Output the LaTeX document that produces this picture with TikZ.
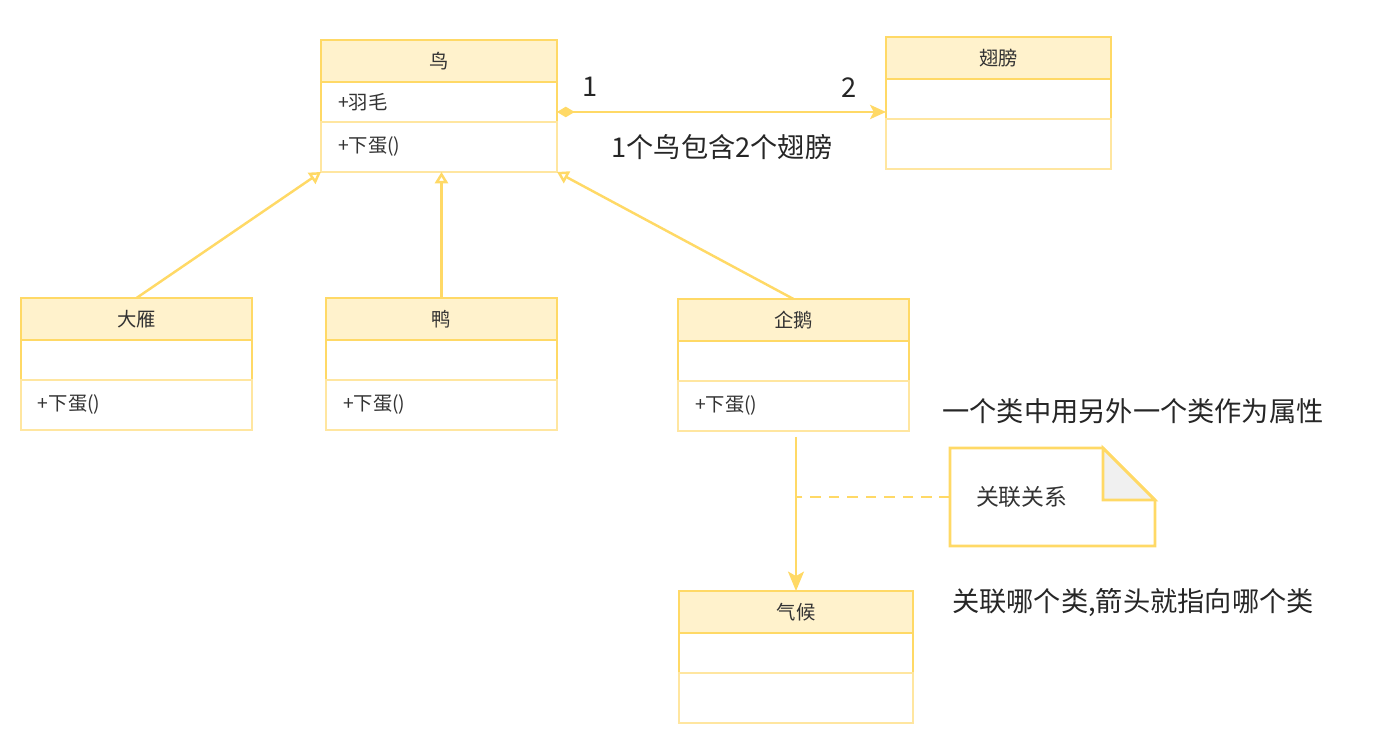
\documentclass[tikz,border=0pt]{standalone}
\usepackage{fontspec}
\setmainfont{Noto Sans CJK SC}
\usepackage{xcolor}
\usepackage{tikz}
\usetikzlibrary{arrows.meta,calc,positioning}
\definecolor{umlline}{RGB}{255,217,102}
\definecolor{umlfill}{RGB}{255,242,204}
\definecolor{umlpale}{RGB}{255,230,160}
\definecolor{txt}{RGB}{51,51,51}
\newcommand{\umlclass}[7]{%
  \pgfmathsetlengthmacro\clsw{#4*0.02cm}\pgfmathsetlengthmacro\clstw{#4*0.02cm-0.68cm}%
  \node[clshead,minimum width=\clsw,anchor=north west] (#1) at (#2,#3) {#5};
  \node[clsrow,minimum width=\clsw,text width=\clstw,anchor=north] (#1-a) at (#1.south) {#6};
  \node[clsrow,clslast,minimum width=\clsw,text width=\clstw,anchor=north] (#1-m) at (#1-a.south) {#7};}

\begin{document}
\begin{tikzpicture}[x=0.02cm,y=-0.02cm,
  clshead/.style={draw=umlline,fill=umlfill,line width=1.5pt,inner sep=0pt,outer sep=0pt,minimum height=0.84cm,font=\fontsize{11}{13}\selectfont,text=txt},
  clsrow/.style={draw=umlline,fill=white,line width=1.5pt,inner ysep=0pt,inner xsep=0.34cm,outer sep=0pt,minimum height=0.8cm,align=left,font=\fontsize{11}{13}\selectfont,text=txt},
  clslast/.style={draw=umlpale,minimum height=1cm},
  gen/.style={draw=umlline,line width=1.4pt,-{Triangle[open,fill=white,length=6.5pt,width=7.5pt]}},
  comp/.style={draw=umlline,line width=1.6pt,{Diamond[length=10pt,width=6pt]}-{Stealth[length=9pt,width=8pt,inset=2pt]}},
  assoc/.style={draw=umlline,line width=1.6pt,-{Stealth[length=11pt,width=9pt,inset=2.5pt]}},
  notelink/.style={draw=umlline,line width=1.4pt,dash pattern=on 6pt off 4.5pt},
  notebox/.style={minimum width=4.1cm,minimum height=1.96cm,text width=3.06cm,inner xsep=0.52cm,inner ysep=0pt,outer sep=0pt,align=left,font=\fontsize{13}{15}\selectfont,text=txt},
  noteline/.style={draw=umlline,line width=1.6pt,line join=miter},
  anno/.style={font=\fontsize{15.5}{18}\selectfont,text=black!85,inner sep=0pt}]
  \useasboundingbox (0,0) rectangle (1386,741);
  \umlclass{niao}{321}{40}{236}{鸟}{+羽毛}{+下蛋()}
  \umlclass{chibang}{886}{37}{225}{翅膀}{}{}
  \umlclass{dayan}{21}{298}{231}{大雁}{}{+下蛋()}
  \umlclass{ya}{326}{298}{231}{鸭}{}{+下蛋()}
  \umlclass{qie}{678}{299}{231}{企鹅}{}{+下蛋()}
  \umlclass{qihou}{679}{591}{234}{气候}{}{}
  % inheritance
  \draw[gen] (dayan.north) -- (niao-m.south west);
  \draw[gen] (ya.north) -- (ya.north |- niao-m.south);
  \draw[gen] (qie.north) -- (niao-m.south east);
  % composition
  \coordinate (hasL) at ([yshift=-0.2cm]niao-a.east);
  \draw[comp] (hasL) -- (hasL -| chibang-a.west);
  \node[anno] (one) at (590,87) {1};
  \node[anno] (two) at (849,88) {2};
  \node[anno] (hasT) at (722,147) {1个鸟包含2个翅膀};
  % association + note
  \node[notebox] (note) at (1052.5,497) {};
  \fill[white] (note.north west) rectangle (note.south east);
  \draw[noteline] (note.north west) -- ([xshift=-1.04cm]note.north east) -- ([yshift=-1.04cm]note.north east) -- (note.south east) -- (note.south west) -- cycle;
  \filldraw[noteline,fill=gray!12] ([xshift=-1.04cm]note.north east) -- ([xshift=-1.04cm,yshift=-1.04cm]note.north east) -- ([yshift=-1.04cm]note.north east) -- cycle;
  \node[notebox] (noteT) at (note) {关联关系};
  \coordinate (assocS) at ([yshift=-0.12cm]qie-m.south);
  \draw[assoc] (assocS -| qihou.north) -- (qihou.north);
  \draw[notelink] (note.west) -- (note.west -| qihou.north);
  \node[anno] (attrT) at (1133,411) {一个类中用另外一个类作为属性};
  \node[anno] (arrowT) at (1133,603) {关联哪个类,箭头就指向哪个类};
\end{tikzpicture}
\end{document}
